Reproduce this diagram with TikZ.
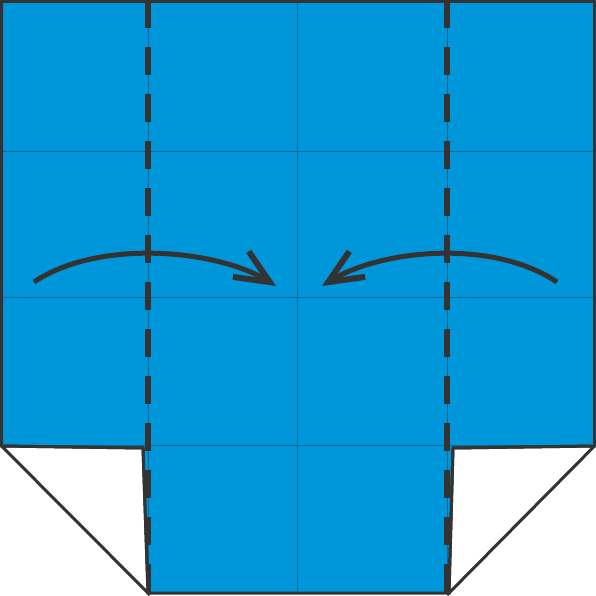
\documentclass[tikz,border=0pt]{standalone}
\usetikzlibrary{arrows.meta}
\definecolor{paper}{RGB}{0,150,218}
\definecolor{crease}{RGB}{20,100,150}
\definecolor{ink}{RGB}{51,51,51}
\begin{document}
\begin{tikzpicture}
          [x=1pt,y=-1pt,
           outline/.style={draw=ink, line width=3pt, line join=miter},
           gridline/.style={draw=crease, line width=1pt},
           valley/.style={draw=ink, line width=6pt, dash pattern=on 28pt off 19pt},
           foldarrow/.style={draw=ink, line width=5pt, -{Straight Barb[length=34pt,width=30pt,line width=6pt]}}]
        \useasboundingbox (0,0) rectangle (596,596);
        \coordinate (tl) at (1.5,1.5);
        \coordinate (tr) at (594.5,1.5);
        \coordinate (ml) at (1.5,446);
        \coordinate (mr) at (594.5,446);
        \coordinate (fl) at (143,448);
        \coordinate (fr) at (453,448);
        \coordinate (bl) at (148,593);
        \coordinate (br) at (449,593);

        % paper
        \fill[paper] (tl) -- (tr) -- (mr) -- (fr) -- (br) -- (bl) -- (fl) -- (ml) -- cycle;

        % creases
        \foreach \y in {152, 297, 445}
          \draw[gridline] (0,\y) -- (596,\y);
        \foreach \x in {148, 297, 447}
          \draw[gridline] (\x,0) -- (\x,593);

        % valley folds
        \draw[valley] (148,0) -- (148,593);
        \draw[valley] (447,0) -- (447,593);

        % flaps
        \draw[outline, fill=white] (ml) -- (fl) -- (bl) -- cycle;
        \draw[outline, fill=white] (mr) -- (fr) -- (br) -- cycle;
        \draw[outline] (tl) -- (tr) -- (mr) -- (fr) -- (br) -- (bl) -- (fl) -- (ml) -- cycle;

        % arrows
        \coordinate (al) at (34,282);
        \coordinate (ar) at (557,282);
        \coordinate (tipl) at (276,286);
        \coordinate (tipr) at (322,286);
        \draw[foldarrow] (al) .. controls (100,238) and (218,250) .. (tipl);
        \draw[foldarrow] (ar) .. controls (491,238) and (380,250) .. (tipr);
      \end{tikzpicture}
\end{document}
